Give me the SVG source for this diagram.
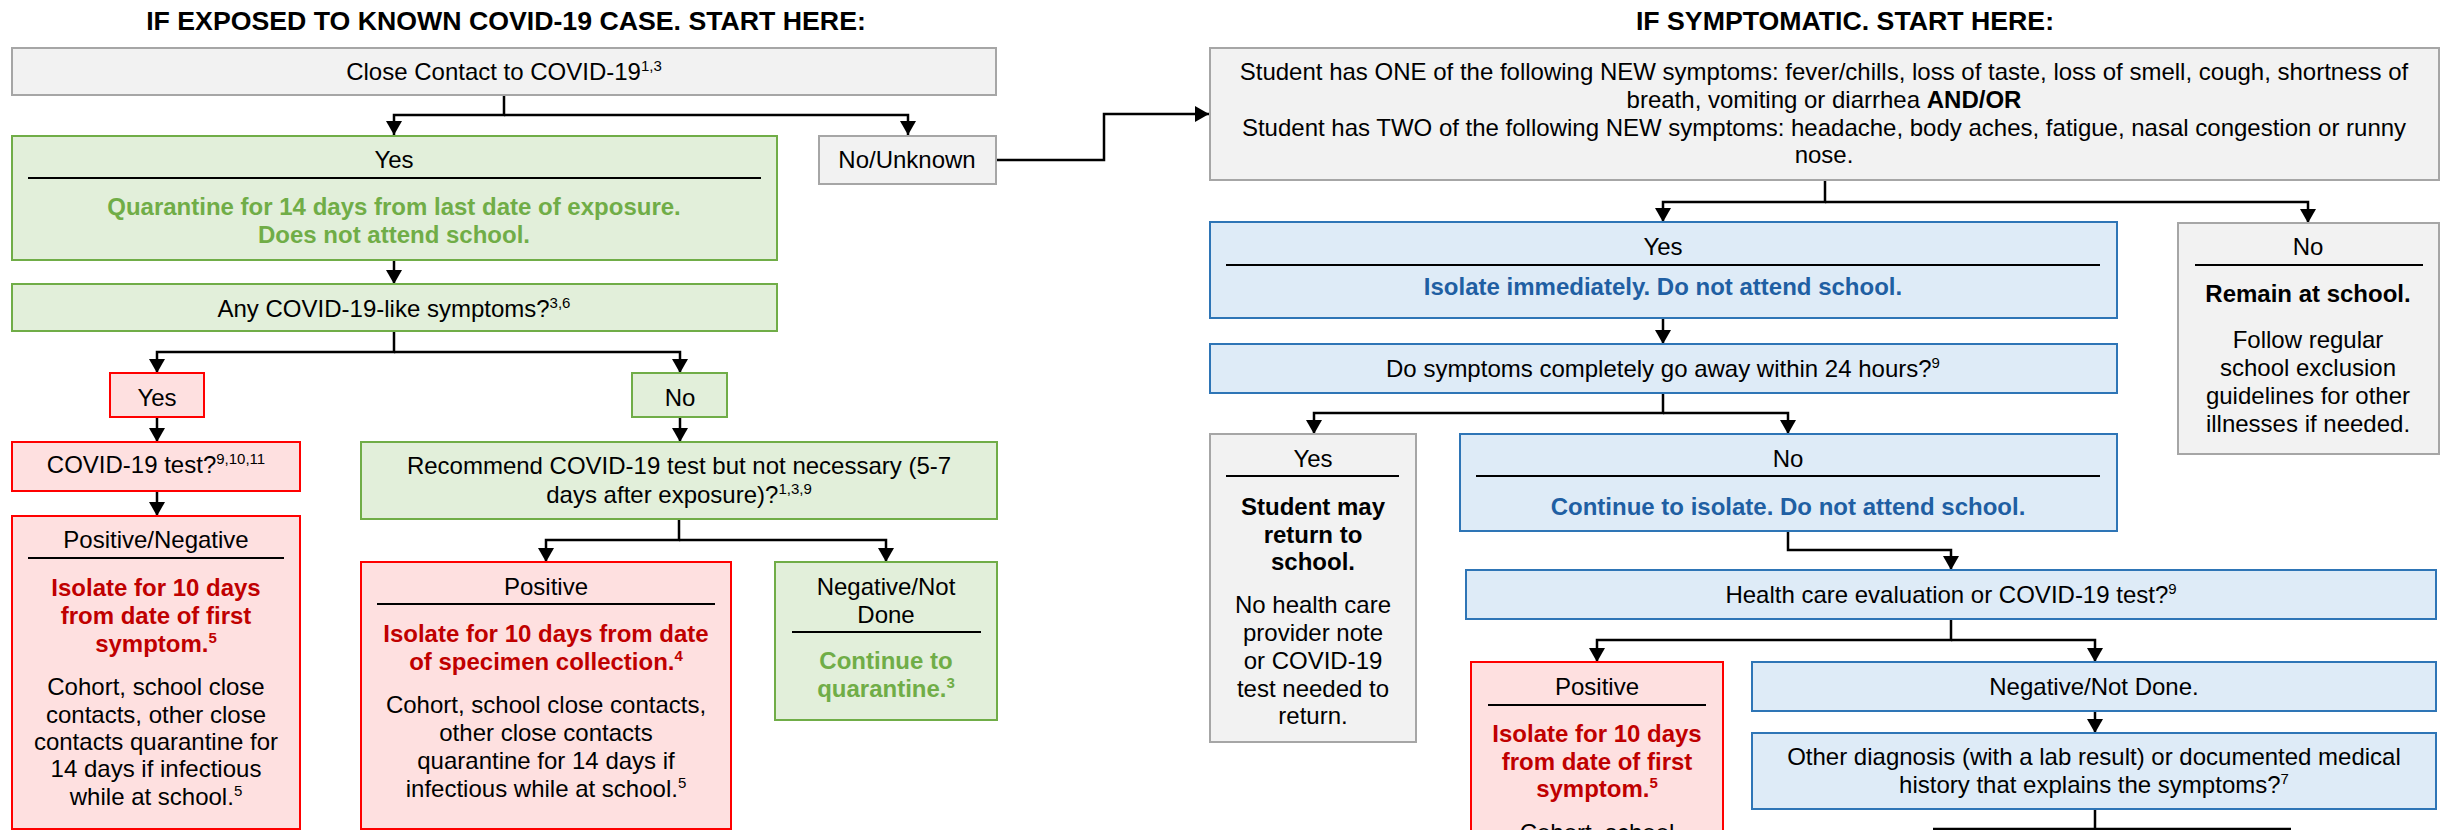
<svg xmlns="http://www.w3.org/2000/svg" width="2448" height="830" viewBox="0 0 2448 830">
<style>
text{font-family:"Liberation Sans",Arial,Helvetica,sans-serif;font-size:24px;text-anchor:middle;fill:#000}
.h{font-size:26.7px;font-weight:bold}
.b{font-weight:bold}
.g{fill:#70ad47}
.r{fill:#c00000}
.u{fill:#1f5fa3}
.s{font-size:15px}
.gray{fill:#f2f2f2;stroke:#a6a6a6;stroke-width:2}
.grn{fill:#e2efda;stroke:#70ad47;stroke-width:2}
.red{fill:#fee0e0;stroke:#ff0000;stroke-width:2}
.blu{fill:#deebf7;stroke:#2e75b6;stroke-width:2}
.div{stroke:#000;stroke-width:2}
.c{fill:none;stroke:#000;stroke-width:2.5}
</style>
<defs>
<marker id="ah" viewBox="0 0 14 16" refX="14" refY="8" markerWidth="14" markerHeight="16" markerUnits="userSpaceOnUse" orient="auto">
<path d="M0,0 L14,8 L0,16 z" fill="#000"/>
</marker>
</defs>
<rect width="2448" height="830" fill="#fff"/>
<text class="h" x="506" y="30">IF EXPOSED TO KNOWN COVID-19 CASE. START HERE:</text>
<text class="h" x="1845" y="30">IF SYMPTOMATIC. START HERE:</text>

<g id="connectors">
<path class="c" d="M504,95 V115 H394 V135" marker-end="url(#ah)"/>
<path class="c" d="M504,115 H908 V135" marker-end="url(#ah)"/>
<path class="c" d="M394,260 V284" marker-end="url(#ah)"/>
<path class="c" d="M394,331 V352 H157 V373" marker-end="url(#ah)"/>
<path class="c" d="M394,352 H680 V373" marker-end="url(#ah)"/>
<path class="c" d="M157,417 V442" marker-end="url(#ah)"/>
<path class="c" d="M157,491 V516" marker-end="url(#ah)"/>
<path class="c" d="M680,417 V442" marker-end="url(#ah)"/>
<path class="c" d="M679,519 V540 H546 V562" marker-end="url(#ah)"/>
<path class="c" d="M679,540 H886 V562" marker-end="url(#ah)"/>
<path class="c" d="M997,160 H1104 V114 H1209" marker-end="url(#ah)"/>
<path class="c" d="M1825,180 V202 H1663 V222" marker-end="url(#ah)"/>
<path class="c" d="M1825,202 H2308 V223" marker-end="url(#ah)"/>
<path class="c" d="M1663,318 V344" marker-end="url(#ah)"/>
<path class="c" d="M1663,393 V413 H1314 V434" marker-end="url(#ah)"/>
<path class="c" d="M1663,413 H1788 V434" marker-end="url(#ah)"/>
<path class="c" d="M1788,531 V550 H1951 V570" marker-end="url(#ah)"/>
<path class="c" d="M1951,619 V640 H1597 V662" marker-end="url(#ah)"/>
<path class="c" d="M1951,640 H2095 V662" marker-end="url(#ah)"/>
<path class="c" d="M2095,711 V733" marker-end="url(#ah)"/>
<path class="c" d="M2095,809 V829 M1933,829 H2291"/>
</g>

<g id="close-contact">
<rect class="gray" x="12" y="48" width="984" height="47"/>
<text x="504" y="80">Close Contact to COVID-19<tspan class="s" dy="-9">1,3</tspan></text>
</g>
<g id="exposed-yes">
<rect class="grn" x="12" y="136" width="765" height="124"/>
<text x="394" y="168">Yes</text>
<line class="div" x1="28" y1="178" x2="761" y2="178"/>
<text class="b g" x="394" y="215">Quarantine for 14 days from last date of exposure.</text>
<text class="b g" x="394" y="243">Does not attend school.</text>
</g>
<g id="no-unknown">
<rect class="gray" x="819" y="136" width="177" height="48"/>
<text x="907" y="168">No/Unknown</text>
</g>
<g id="any-symptoms">
<rect class="grn" x="12" y="284" width="765" height="47"/>
<text x="394" y="317">Any COVID-19-like symptoms?<tspan class="s" dy="-9">3,6</tspan></text>
</g>
<g id="sym-yes">
<rect class="red" x="110" y="373" width="94" height="44"/>
<text x="157" y="406">Yes</text>
</g>
<g id="sym-no">
<rect class="grn" x="632" y="373" width="95" height="44"/>
<text x="680" y="406">No</text>
</g>
<g id="covid-test">
<rect class="red" x="12" y="442" width="288" height="49"/>
<text x="156" y="473">COVID-19 test?<tspan class="s" dy="-9">9,10,11</tspan></text>
</g>
<g id="pos-neg">
<rect class="red" x="12" y="516" width="288" height="313"/>
<text x="156" y="548">Positive/Negative</text>
<line class="div" x1="28" y1="558" x2="284" y2="558"/>
<text class="b r" x="156" y="596">Isolate for 10 days</text>
<text class="b r" x="156" y="624">from date of first</text>
<text class="b r" x="156" y="652">symptom.<tspan class="s" dy="-9">5</tspan></text>
<text x="156" y="695">Cohort, school close</text>
<text x="156" y="723">contacts, other close</text>
<text x="156" y="750">contacts quarantine for</text>
<text x="156" y="777">14 days if infectious</text>
<text x="156" y="805">while at school.<tspan class="s" dy="-9">5</tspan></text>
</g>
<g id="recommend">
<rect class="grn" x="361" y="442" width="636" height="77"/>
<text x="679" y="474">Recommend COVID-19 test but not necessary (5-7</text>
<text x="679" y="503">days after exposure)?<tspan class="s" dy="-9">1,3,9</tspan></text>
</g>
<g id="positive-left">
<rect class="red" x="361" y="562" width="370" height="267"/>
<text x="546" y="595">Positive</text>
<line class="div" x1="377" y1="604" x2="715" y2="604"/>
<text class="b r" x="546" y="642">Isolate for 10 days from date</text>
<text class="b r" x="546" y="670">of specimen collection.<tspan class="s" dy="-9">4</tspan></text>
<text x="546" y="713">Cohort, school close contacts,</text>
<text x="546" y="741">other close contacts</text>
<text x="546" y="769">quarantine for 14 days if</text>
<text x="546" y="797">infectious while at school.<tspan class="s" dy="-9">5</tspan></text>
</g>
<g id="neg-not-done-left">
<rect class="grn" x="775" y="562" width="222" height="158"/>
<text x="886" y="595">Negative/Not</text>
<text x="886" y="623">Done</text>
<line class="div" x1="792" y1="632" x2="981" y2="632"/>
<text class="b g" x="886" y="669">Continue to</text>
<text class="b g" x="886" y="697">quarantine.<tspan class="s" dy="-9">3</tspan></text>
</g>

<g id="student-symptoms">
<rect class="gray" x="1210" y="48" width="1229" height="132"/>
<text x="1824" y="80">Student has ONE of the following NEW symptoms: fever/chills, loss of taste, loss of smell, cough, shortness of</text>
<text x="1824" y="108">breath, vomiting or diarrhea <tspan class="b">AND/OR</tspan></text>
<text x="1824" y="136">Student has TWO of the following NEW symptoms: headache, body aches, fatigue, nasal congestion or runny</text>
<text x="1824" y="163">nose.</text>
</g>
<g id="symptomatic-yes">
<rect class="blu" x="1210" y="222" width="907" height="96"/>
<text x="1663" y="255">Yes</text>
<line class="div" x1="1226" y1="265" x2="2100" y2="265"/>
<text class="b u" x="1663" y="295">Isolate immediately. Do not attend school.</text>
</g>
<g id="symptomatic-no">
<rect class="gray" x="2178" y="223" width="261" height="231"/>
<text x="2308" y="255">No</text>
<line class="div" x1="2195" y1="265" x2="2423" y2="265"/>
<text class="b" x="2308" y="302">Remain at school.</text>
<text x="2308" y="348">Follow regular</text>
<text x="2308" y="376">school exclusion</text>
<text x="2308" y="404">guidelines for other</text>
<text x="2308" y="432">illnesses if needed.</text>
</g>
<g id="go-away">
<rect class="blu" x="1210" y="344" width="907" height="49"/>
<text x="1663" y="377">Do symptoms completely go away within 24 hours?<tspan class="s" dy="-9">9</tspan></text>
</g>
<g id="go-away-yes">
<rect class="gray" x="1210" y="434" width="206" height="308"/>
<text x="1313" y="467">Yes</text>
<line class="div" x1="1226" y1="476" x2="1399" y2="476"/>
<text class="b" x="1313" y="515">Student may</text>
<text class="b" x="1313" y="543">return to</text>
<text class="b" x="1313" y="570">school.</text>
<text x="1313" y="613">No health care</text>
<text x="1313" y="641">provider note</text>
<text x="1313" y="669">or COVID-19</text>
<text x="1313" y="697">test needed to</text>
<text x="1313" y="724">return.</text>
</g>
<g id="go-away-no">
<rect class="blu" x="1460" y="434" width="657" height="97"/>
<text x="1788" y="467">No</text>
<line class="div" x1="1476" y1="476" x2="2100" y2="476"/>
<text class="b u" x="1788" y="515">Continue to isolate. Do not attend school.</text>
</g>
<g id="health-care">
<rect class="blu" x="1466" y="570" width="970" height="49"/>
<text x="1951" y="603">Health care evaluation or COVID-19 test?<tspan class="s" dy="-9">9</tspan></text>
</g>
<g id="positive-right">
<rect class="red" x="1471" y="662" width="252" height="240"/>
<text x="1597" y="695">Positive</text>
<line class="div" x1="1488" y1="705" x2="1706" y2="705"/>
<text class="b r" x="1597" y="742">Isolate for 10 days</text>
<text class="b r" x="1597" y="770">from date of first</text>
<text class="b r" x="1597" y="797">symptom.<tspan class="s" dy="-9">5</tspan></text>
<text x="1597" y="841">Cohort, school</text>
</g>
<g id="neg-not-done-right">
<rect class="blu" x="1752" y="662" width="684" height="49"/>
<text x="2094" y="695">Negative/Not Done.</text>
</g>
<g id="other-diagnosis">
<rect class="blu" x="1752" y="733" width="684" height="76"/>
<text x="2094" y="765">Other diagnosis (with a lab result) or documented medical</text>
<text x="2094" y="793">history that explains the symptoms?<tspan class="s" dy="-9">7</tspan></text>
</g>
</svg>
